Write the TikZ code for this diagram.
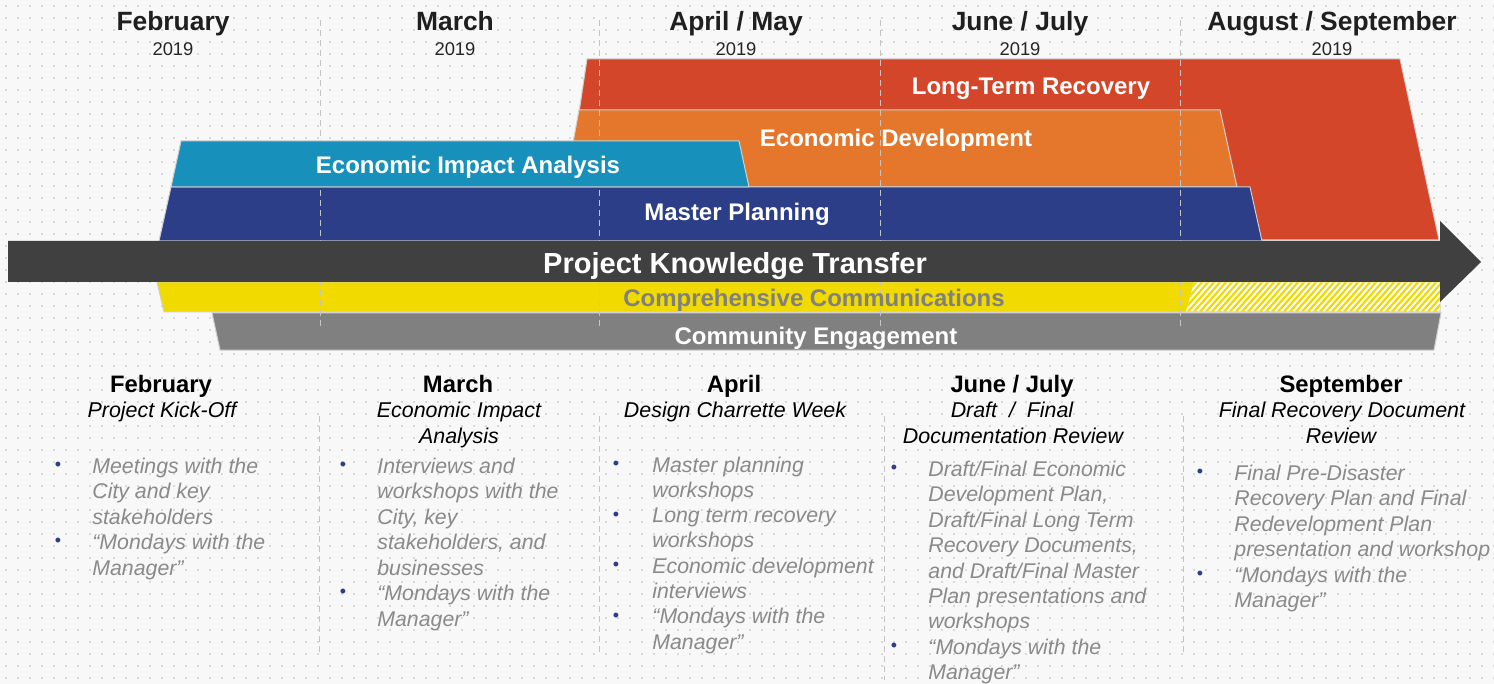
\documentclass[tikz,border=0pt]{standalone}
\usepackage{fontspec}
\setmainfont{Liberation Sans}
\definecolor{bgc}{HTML}{F8F8F8}
\definecolor{dotc}{HTML}{D9D9D9}
\definecolor{redc}{HTML}{D4462A}
\definecolor{orc}{HTML}{E4772B}
\definecolor{tealc}{HTML}{1790BC}
\definecolor{navyc}{HTML}{2B3E87}
\definecolor{darkc}{HTML}{404040}
\definecolor{yelc}{HTML}{F0DA00}
\definecolor{grayc}{HTML}{808080}
\definecolor{itemc}{HTML}{8A8A8A}
\definecolor{sepc}{HTML}{C4C4C4}
\definecolor{edgec}{HTML}{D0D0D0}
\begin{document}
\begin{tikzpicture}[x=0.5pt,y=-0.5pt,
  hdr/.style={font=\fontsize{13.2}{15}\selectfont\bfseries, text=black!88, inner sep=0, anchor=base},
  yr/.style={font=\fontsize{9.2}{11}\selectfont, text=black!85, inner sep=0, anchor=base},
  band/.style={draw=edgec, line width=0.5pt},
  blab/.style={font=\fontsize{12}{14}\selectfont\bfseries, text=white, inner sep=0, anchor=base},
  vsep/.style={draw=sepc, line width=0.5pt, dash pattern=on 3pt off 2pt},
  bhdr/.style={font=\fontsize{11.9}{14}\selectfont\bfseries, text=black, inner sep=0, anchor=base},
  sub/.style={font=\fontsize{10.7}{12}\selectfont\itshape, text=black, inner sep=0, anchor=base},
  itm/.style={font=\fontsize{10.65}{12}\selectfont\itshape, text=itemc, inner sep=0, anchor=base west},
  bul/.style={font=\fontsize{9}{10}\selectfont, text=navyc, inner sep=0, anchor=base, yshift=1.3pt}]
\useasboundingbox (0,0) rectangle (1494,684);
\fill[bgc] (0,0) rectangle (1494,684);
\foreach \yy in {6,18,...,684} {
  \fill[dotc] \foreach \xx in {6,18,...,1494} {(\xx-0.9,\yy-0.9) rectangle (\xx+0.9,\yy+0.9)};
}
% top headers
\node[hdr] (hFeb) at (173,30.5) {February};
\node[hdr] (hMar) at (455,30.5) {March};
\node[hdr] (hApr) at (736,30.5) {April / May};
\node[hdr] (hJun) at (1020,30.5) {June / July};
\node[hdr] (hAug) at (1332,30.5) {August / September};
\node[yr] (yFeb) at (173,56) {2019};
\node[yr] (yMar) at (455,56) {2019};
\node[yr] (yApr) at (736,56) {2019};
\node[yr] (yJun) at (1020,56) {2019};
\node[yr] (yAug) at (1332,56) {2019};
% bands
\fill[redc, band] (587,59) -- (1400,59) -- (1439,240) -- (560,240) -- cycle;
\fill[orc, band] (579,110) -- (1220,110) -- (1237,187) -- (565,187) -- cycle;
\fill[navyc, band] (171,187) -- (1250,187) -- (1262,241) -- (159,241) -- cycle;
\fill[yelc, band] (157,282) -- (1440,282) -- (1440,312) -- (164,312) -- cycle;
\begin{scope}
  \clip (1194,282.5) -- (1440,282.5) -- (1440,311.5) -- (1186,311.5) -- cycle;
  \fill[white] (1150,280) rectangle (1445,315);
  \foreach \k in {1150,1156,...,1450} \draw[yelc, line width=1.1pt] (\k,314) -- (\k+30,280);
\end{scope}
\fill[grayc, band] (212,313) -- (1441,313) -- (1434,350) -- (220,350) -- cycle;
% dashed month separators
\coordinate (t1a) at (320,20); \coordinate (t1b) at (320,327);
\coordinate (t2a) at (599,20); \coordinate (t2b) at (599,327);
\coordinate (t3a) at (880,20); \coordinate (t3b) at (880,327);
\coordinate (t4a) at (1180,20); \coordinate (t4b) at (1180,327);
\draw[vsep] (t1a) -- (t1b);
\draw[vsep] (t2a) -- (t2b);
\draw[vsep] (t3a) -- (t3b);
\draw[vsep] (t4a) -- (t4b);
\fill[tealc, band] (181,141) -- (739,141) -- (749,187) -- (171,187) -- cycle;
% arrow
\fill[darkc] (8,241) -- (1440,241) -- (1440,221) -- (1481,262) -- (1440,302) -- (1440,282) -- (8,282) -- cycle;
% band labels
\node[blab] (lLTR) at (1031,94.6) {Long-Term Recovery};
\node[blab] (lED) at (896,146.6) {Economic Development};
\node[blab] (lEIA) at (468,173.6) {Economic Impact Analysis};
\node[blab] (lMP) at (737,220.6) {Master Planning};
\node[blab, font=\fontsize{14.5}{16}\selectfont\bfseries] (lPKT) at (735,273.4) {Project Knowledge Transfer};
\node[blab, text=grayc] (lCC) at (814,306.6) {Comprehensive Communications};
\node[blab] (lCE) at (816,344.6) {Community Engagement};
% bottom separators
\coordinate (b1a) at (319,416); \coordinate (b1b) at (319,652);
\coordinate (b2a) at (599,416); \coordinate (b2b) at (599,652);
\coordinate (b3a) at (884,416); \coordinate (b3b) at (884,680);
\coordinate (b4a) at (1183,416); \coordinate (b4b) at (1183,652);
\draw[vsep] (b1a) -- (b1b);
\draw[vsep] (b2a) -- (b2b);
\draw[vsep] (b3a) -- (b3b);
\draw[vsep] (b4a) -- (b4b);
% column 1
\node[bhdr] (c1h) at (161,392) {February};
\node[sub] (c1s) at (162,417.5) {Project Kick-Off};
\foreach [count=\i] \t in {Meetings with the, City and key, stakeholders, “Mondays with the, Manager”}
  \node[itm] (c1l\i) at (92,{473+25.5*(\i-1)}) {\t};
\node[bul] (c1b1) at (58,473) {•};
\node[bul] (c1b2) at (58,{473+25.5*3}) {•};
% column 2
\node[bhdr] (c2h) at (458,392) {March};
\node[sub] (c2s1) at (459,417.5) {Economic Impact};
\node[sub] (c2s2) at (459,443.5) {Analysis};
\foreach [count=\i] \t in {Interviews and, workshops with the, {City, key}, {stakeholders, and}, businesses, “Mondays with the, Manager”}
  \node[itm] (c2l\i) at (377,{473+25.5*(\i-1)}) {\t};
\node[bul] (c2b1) at (343,473) {•};
\node[bul] (c2b2) at (343,{473+25.5*5}) {•};
% column 3
\node[bhdr] (c3h) at (734,392) {April};
\node[sub] (c3s) at (735,417.5) {Design Charrette Week};
\foreach [count=\i] \t in {Master planning, workshops, Long term recovery, workshops, Economic development, interviews, “Mondays with the, Manager”}
  \node[itm] (c3l\i) at (652,{472+25.3*(\i-1)}) {\t};
\node[bul] (c3b1) at (616,472) {•};
\node[bul] (c3b2) at (616,{472+25.3*2}) {•};
\node[bul] (c3b3) at (616,{472+25.3*4}) {•};
\node[bul] (c3b4) at (616,{472+25.3*6}) {•};
% column 4
\node[bhdr] (c4h) at (1012,392) {June / July};
\node[sub] (c4s1) at (1012,417.5) {Draft~~/~~Final};
\node[sub] (c4s2) at (1013,443.5) {Documentation Review};
\foreach [count=\i] \t in {Draft/Final Economic, {Development Plan,}, Draft/Final Long Term, {Recovery Documents,}, and Draft/Final Master, Plan presentations and, workshops, “Mondays with the, Manager”}
  \node[itm] (c4l\i) at (928,{476.5+25.4*(\i-1)}) {\t};
\node[bul] (c4b1) at (894,476.5) {•};
\node[bul] (c4b2) at (894,{476.5+25.4*7}) {•};
% column 5
\node[bhdr] (c5h) at (1341,392) {September};
\node[sub] (c5s1) at (1342,417.5) {Final Recovery Document};
\node[sub] (c5s2) at (1341,443.5) {Review};
\foreach [count=\i] \t in {Final Pre-Disaster, Recovery Plan and Final, Redevelopment Plan, presentation and workshop, “Mondays with the, Manager”}
  \node[itm] (c5l\i) at (1234,{480+25.5*(\i-1)}) {\t};
\node[bul] (c5b1) at (1200,480) {•};
\node[bul] (c5b2) at (1200,{480+25.5*4}) {•};
\end{tikzpicture}
\end{document}
